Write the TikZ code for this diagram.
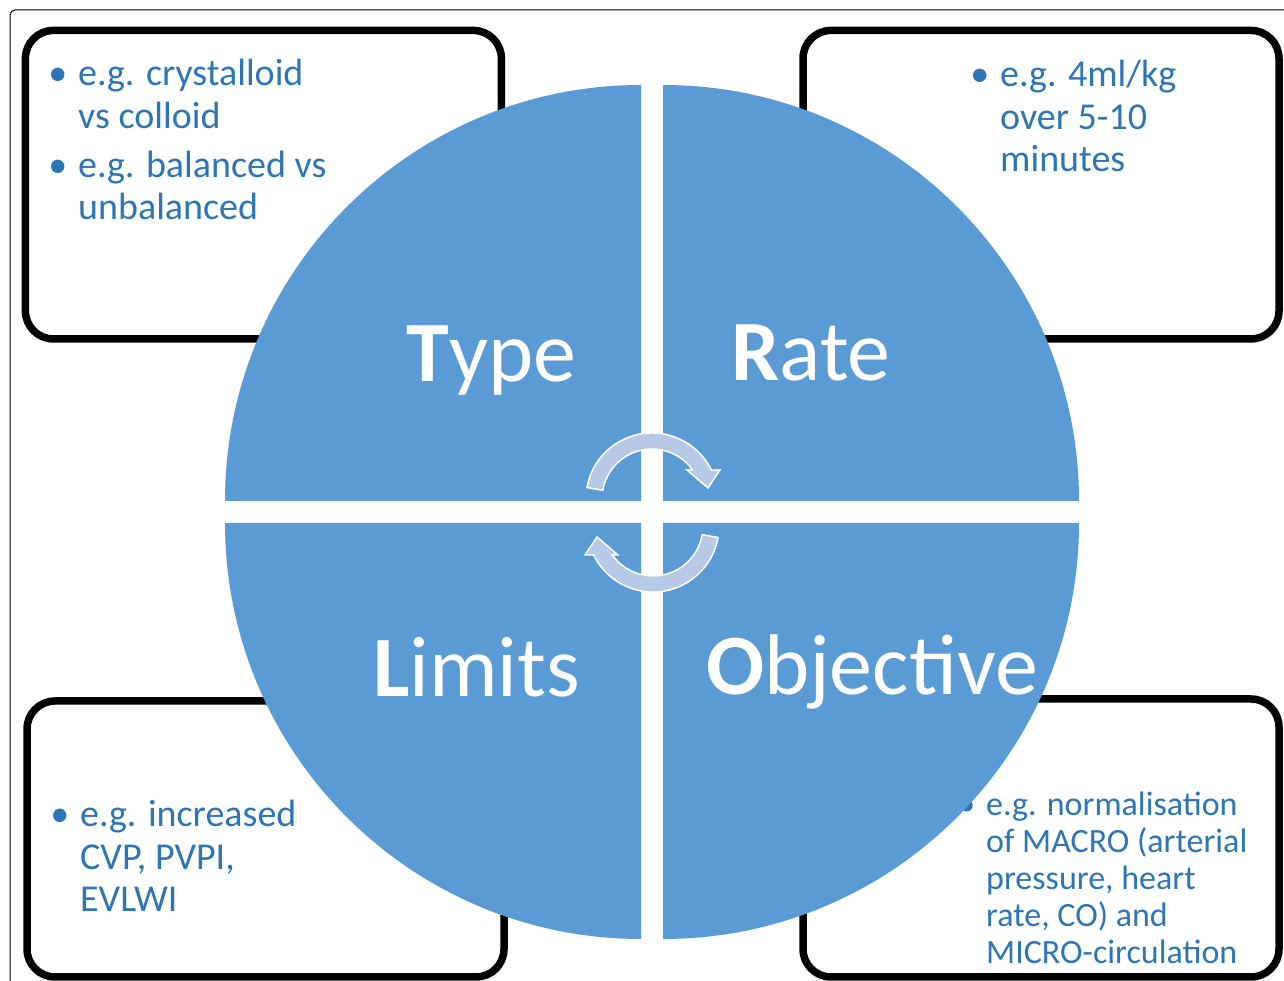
\documentclass[tikz,border=0pt]{standalone}
\usepackage{fontspec}
\setmainfont{Carlito}
\usepackage{xcolor}
\usepackage{tikz}

\definecolor{quadblue}{RGB}{91,155,213}
\definecolor{textblue}{RGB}{46,117,182}
\definecolor{arrowblue}{RGB}{182,201,230}

\tikzset{
  infobox/.style={rectangle,draw,line width=7.5pt,rounded corners=28pt,inner sep=0pt},
  infotext/.style={anchor=base west,align=left,inner sep=0pt,text=textblue,font=\fontsize{38}{42.5}\selectfont},
  quad/.style={fill=quadblue},
  bigword/.style={anchor=base,inner sep=0pt,text=white,font=\fontsize{86}{90}\selectfont},
  cyclearrow/.style={fill=arrowblue,draw=white,line width=1.5pt}
}
\newcommand{\bul}{\llap{\textbullet\hspace{11pt}}}

\begin{document}
\begin{tikzpicture}[x=1pt,y=1pt]
\useasboundingbox (0,0) rectangle (1284,981);
% outer frame
\draw[line width=1pt,rounded corners=5pt] (10,-20) rectangle (1310,971);

% corner boxes
\node (typebox) at (263.4,796.3) [infobox,minimum width=476pt,minimum height=308.5pt] {};
\node (ratebox) at (1041,796.3) [infobox,minimum width=476pt,minimum height=308.5pt] {};
\node (limitsbox) at (265.5,142) [infobox,minimum width=477pt,minimum height=276pt] {};
\node (objbox) at (1041,143) [infobox,minimum width=476pt,minimum height=278pt] {};

% texts, anchored at the baseline of the last line
\node (typetext) at (78,761) [infotext] {\bul e.g. crystalloid\\vs colloid\\[6.5pt]\bul e.g. balanced vs\\unbalanced};
\node (ratetext) at (1000,809) [infotext] {\bul e.g. 4ml/kg\\over 5-10\\minutes};
\node (limitstext) at (80,69) [infotext] {\bul e.g. increased\\CVP, PVPI,\\EVLWI};
\node (objtext) at (986,17) [infotext,font=\fontsize{34}{37}\selectfont] {\bul e.g. normalisation\\of MACRO (arterial\\pressure, heart\\rate, CO) and\\MICRO-circulation};

% the four quarters
\fill[quad] (641,480) -- (225,480) arc[start angle=180,end angle=90,radius=416pt] -- cycle;
\fill[quad] (663,480) -- (663,896) arc[start angle=90,end angle=0,radius=416pt] -- cycle;
\fill[quad] (641,458) -- (641,42) arc[start angle=270,end angle=180,radius=416pt] -- cycle;
\fill[quad] (663,458) -- (1079,458) arc[start angle=0,end angle=-90,radius=416pt] -- cycle;

\node (type) at (491.5,599) [bigword] {\textbf{T}ype};
\node (rate) at (811,600) [bigword] {\textbf{R}ate};
\node (limits) at (476.5,284) [bigword] {\textbf{L}imits};
\node (objective) at (872,286) [bigword] {\textbf{O}bjective};

% cycle arrows
\draw[cyclearrow] (587,493.5) arc[start angle=170,end angle=26,radius=66pt] -- (720,511) -- (708,493) -- (687,511) -- (692.7,511) arc[start angle=35.5,end angle=170,radius=50pt] -- cycle;
\draw[cyclearrow,rotate around={180:(652.5,468.5)}] (587,493.5) arc[start angle=170,end angle=26,radius=66pt] -- (720,511) -- (708,493) -- (687,511) -- (692.7,511) arc[start angle=35.5,end angle=170,radius=50pt] -- cycle;
\end{tikzpicture}
\end{document}
